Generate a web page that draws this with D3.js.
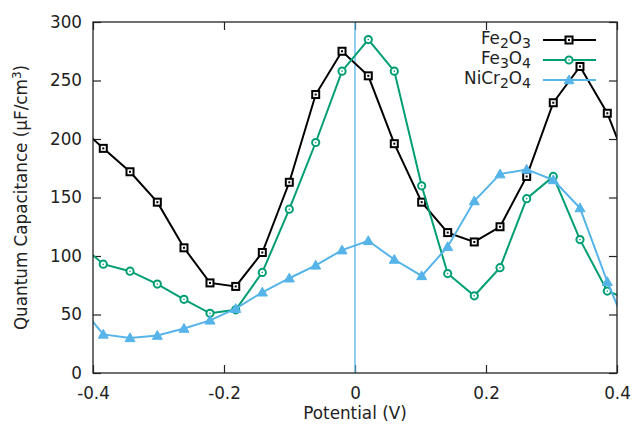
<!DOCTYPE html>
<html>
<head>
<meta charset="utf-8">
<script src="https://cdn.jsdelivr.net/npm/d3@7"></script>
<style>
  html, body { margin: 0; padding: 0; background: #fff; }
  svg { display: block; }
  text { font-family: "DejaVu Sans", sans-serif; fill: #222; }
</style>
</head>
<body>
<div id="chart"></div>
<script>
// Potential sweep (V); first and last points lie just outside the plotted window
const potential = [-0.4255, -0.3843, -0.3435, -0.3018, -0.2611, -0.2214, -0.1821, -0.1415, -0.1003,
  -0.0600, -0.0198, 0.0203, 0.0600, 0.1018, 0.1415, 0.1821, 0.2214, 0.2621, 0.3027, 0.3435, 0.3852, 0.4257];

// Quantum capacitance (µF/cm³)
const fe2o3 = [213, 192, 172, 146, 107, 77, 74, 103, 163, 238, 275, 254, 196, 146, 120, 112, 125, 168, 231, 262, 222, 164];
const fe3o4 = [113, 93, 87, 76, 63, 51, 54, 86, 140, 197, 258, 285, 258, 160, 85, 66, 90, 149, 168, 114, 70, 61];
const nicr2o4 = [61, 33, 30, 32, 38, 45, 55, 69, 81, 92, 105, 113, 97, 83, 108, 147, 170, 174, 165, 141, 78, 24];

// Legend names as [text, subscript] pieces
const seriesNames = [
  [["Fe", false], ["2", true], ["O", false], ["3", true]],
  [["Fe", false], ["3", true], ["O", false], ["4", true]],
  [["NiCr", false], ["2", true], ["O", false], ["4", true]]
];
const xTicks = [-0.4, -0.2, 0, 0.2, 0.4];
const yTicks = [0, 50, 100, 150, 200, 250, 300];

const W = 634, H = 428;
const margin = { left: 93, right: 17, top: 22, bottom: 55 };
const fontSize = "16.8px";

const svg = d3.select("#chart").append("svg").attr("width", W).attr("height", H);

const x = d3.scaleLinear().domain([-0.4, 0.4]).range([margin.left, W - margin.right]);
const y = d3.scaleLinear().domain([0, 300]).range([H - margin.bottom, margin.top]);

svg.append("defs").append("clipPath").attr("id", "plot-clip")
  .append("rect")
  .attr("x", x(-0.4)).attr("y", y(300))
  .attr("width", x(0.4) - x(-0.4)).attr("height", y(0) - y(300));

const tickLen = 8;

// Tick marks on all four sides, pointing inward
const axisBottom = d3.axisBottom(x).tickValues(xTicks).tickSizeInner(-tickLen).tickSizeOuter(0)
  .tickPadding(14).tickFormat(d => d === 0 ? "0" : d3.format(".1f")(d).replace("\u2212", "-"));
const gx = svg.append("g").attr("transform", `translate(0,${y(0)})`).call(axisBottom);

const axisLeft = d3.axisLeft(y).tickValues(yTicks).tickSizeInner(-tickLen).tickSizeOuter(0)
  .tickPadding(11).tickFormat(d3.format("d"));
const gy = svg.append("g").attr("transform", `translate(${x(-0.4)},0)`).call(axisLeft);

const axisTop = d3.axisTop(x).tickValues(xTicks).tickSizeInner(-tickLen).tickSizeOuter(0).tickFormat("");
const gt = svg.append("g").attr("transform", `translate(0,${y(300)})`).call(axisTop);

const axisRight = d3.axisRight(y).tickValues(yTicks).tickSizeInner(-tickLen).tickSizeOuter(0).tickFormat("");
const gr = svg.append("g").attr("transform", `translate(${x(0.4)},0)`).call(axisRight);

[gx, gy, gt, gr].forEach(g => {
  g.select(".domain").remove();
  g.selectAll(".tick line").attr("stroke", "#222").attr("stroke-width", 1.2);
  g.selectAll(".tick text").style("font-size", fontSize).attr("fill", "#222")
    .style("font-family", "'DejaVu Sans', sans-serif");
});

// Zero-potential reference line
svg.append("line")
  .attr("x1", x(0)).attr("x2", x(0))
  .attr("y1", y(0)).attr("y2", y(300))
  .attr("stroke", "#56B4E9").attr("stroke-width", 1.3);

const plot = svg.append("g").attr("clip-path", "url(#plot-clip)");

const line = d3.line().x(d => x(d[0])).y(d => y(d[1]));

function squareMarker(g, cx, cy, color) {
  g.append("rect").attr("x", cx - 3.5).attr("y", cy - 3.5).attr("width", 7).attr("height", 7)
    .attr("fill", "#fff").attr("stroke", color).attr("stroke-width", 2);
  g.append("rect").attr("x", cx - 1).attr("y", cy - 1).attr("width", 2).attr("height", 2).attr("fill", color);
}
function circleMarker(g, cx, cy, color) {
  g.append("circle").attr("cx", cx).attr("cy", cy).attr("r", 3.6)
    .attr("fill", "#fff").attr("stroke", color).attr("stroke-width", 2);
  g.append("circle").attr("cx", cx).attr("cy", cy).attr("r", 0.8).attr("fill", color);
}
function triangleMarker(g, cx, cy, color) {
  const s = 5;
  g.append("path")
    .attr("d", `M${cx},${cy - s}L${cx + s},${cy + s * 0.75}L${cx - s},${cy + s * 0.75}Z`)
    .attr("fill", color).attr("stroke", color).attr("stroke-width", 1);
}

const series = [
  { name: seriesNames[0], values: fe2o3, color: "#000000", marker: squareMarker },
  { name: seriesNames[1], values: fe3o4, color: "#009E73", marker: circleMarker },
  { name: seriesNames[2], values: nicr2o4, color: "#56B4E9", marker: triangleMarker }
];

series.forEach(s => {
  const pts = potential.map((p, i) => [p, s.values[i]]);
  plot.append("path").datum(pts).attr("d", line)
    .attr("fill", "none").attr("stroke", s.color).attr("stroke-width", 2)
    .attr("stroke-linejoin", "miter");
  const mg = plot.append("g");
  pts.forEach(d => {
    if (d[0] >= -0.4 && d[0] <= 0.4) s.marker(mg, x(d[0]), y(d[1]), s.color);
  });
});

// Plot border
svg.append("rect")
  .attr("x", x(-0.4)).attr("y", y(300))
  .attr("width", x(0.4) - x(-0.4)).attr("height", y(0) - y(300))
  .attr("fill", "none").attr("stroke", "#222").attr("stroke-width", 1.3);

// Legend
const legend = svg.append("g");
const legRows = [40, 60, 80];
series.forEach((s, i) => {
  const ly = legRows[i];
  const t = legend.append("text")
    .attr("x", 531).attr("y", ly + 4)
    .attr("text-anchor", "end").style("font-size", fontSize);
  let shifted = false;
  s.name.forEach(([txt, sub]) => {
    const ts = t.append("tspan").text(txt);
    if (sub && !shifted) { ts.attr("dy", 4); shifted = true; }
    else if (!sub && shifted) { ts.attr("dy", -4); shifted = false; }
    if (sub) ts.style("font-size", "14px");
  });
  legend.append("line").attr("x1", 543).attr("x2", 596).attr("y1", ly).attr("y2", ly)
    .attr("stroke", s.color).attr("stroke-width", 2);
  s.marker(legend, 569, ly, s.color);
});

// Axis titles
svg.append("text")
  .attr("x", x(0)).attr("y", 419)
  .attr("text-anchor", "middle").style("font-size", fontSize)
  .text("Potential (V)");

const yTitle = svg.append("text")
  .attr("transform", `translate(27,${(y(0) + y(300)) / 2}) rotate(-90)`)
  .attr("text-anchor", "middle").style("font-size", fontSize);
yTitle.append("tspan").text("Quantum Capacitance (\u00b5F/cm");
yTitle.append("tspan").attr("dy", "-6").style("font-size", "12px").text("3");
yTitle.append("tspan").attr("dy", "6").text(")");
</script>
</body>
</html>
